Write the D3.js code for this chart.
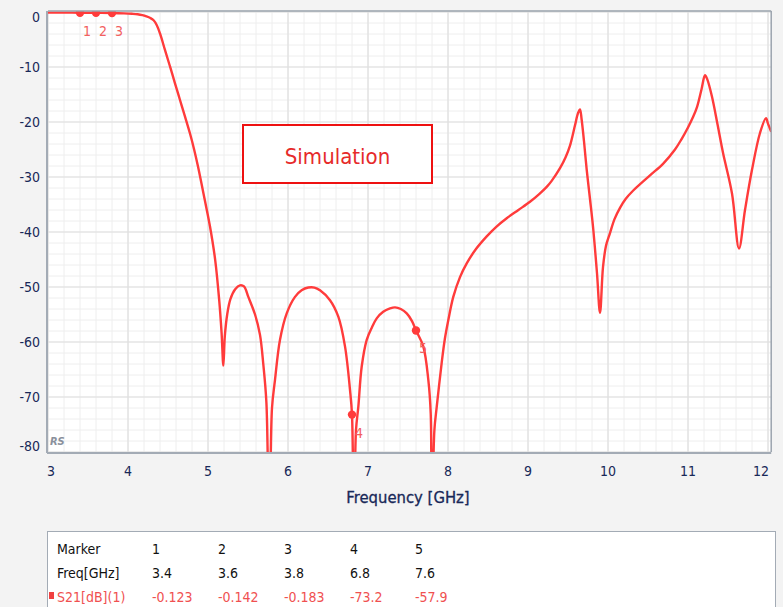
<!DOCTYPE html>
<html>
<head>
<meta charset="utf-8">
<script src="https://cdn.jsdelivr.net/npm/d3@7/dist/d3.min.js"></script>
<style>
  html, body { margin: 0; padding: 0; background: #f3f3f3; }
  svg { display: block; }
  text { font-family: "DejaVu Sans Condensed", "DejaVu Sans", sans-serif; }
</style>
</head>
<body>
<svg id="chart" width="783" height="607"></svg>
<script>
// ---------------- DATA ----------------
const freqGHz = [3.0, 3.2, 3.4, 3.6, 3.8, 3.95, 4.05, 4.12, 4.18, 4.23, 4.28, 4.32, 4.36, 4.40, 4.46,
  4.525, 4.59, 4.65, 4.71, 4.775, 4.825, 4.875, 4.96, 5.025, 5.09, 5.14, 5.17, 5.192, 5.21, 5.24, 5.28,
  5.34, 5.40, 5.45, 5.504, 5.588, 5.65, 5.691, 5.73, 5.766, 5.80, 5.8375, 5.90, 5.984, 6.0875,
  6.17, 6.254, 6.33, 6.40, 6.525, 6.629, 6.7125, 6.775, 6.80, 6.825, 6.85, 6.879, 6.921, 6.984,
  7.05, 7.109, 7.19, 7.275, 7.3375, 7.41, 7.484, 7.55, 7.60, 7.691, 7.754, 7.784, 7.796, 7.83,
  7.859, 7.921, 7.96, 8.004, 8.066, 8.15, 8.234, 8.35, 8.484, 8.60, 8.734, 8.88, 9.025, 9.14, 9.234,
  9.296, 9.40, 9.47, 9.525, 9.5875, 9.625, 9.65, 9.67, 9.70, 9.734, 9.775, 9.8125, 9.8625, 9.90,
  9.9375, 9.975, 10.025, 10.08, 10.15, 10.22, 10.3125, 10.525, 10.6875, 10.8375, 10.92, 11.0, 11.06, 11.1125,
  11.17, 11.2125, 11.24, 11.30, 11.37, 11.4375, 11.55, 11.6375, 11.7125, 11.80, 11.90, 11.975,
  12.0, 12.04];
const s21dB = [-0.11, -0.115, -0.123, -0.142, -0.183, -0.25, -0.33, -0.42, -0.58, -0.8, -1.1, -1.5, -2.4, -3.9, -6.8,
  -9.9, -13.1, -16, -18.9, -22.1, -24.9, -28.1, -34.2, -39, -45.1, -52.4, -58.4, -64.3, -59, -55, -52.2,
  -50.4, -49.7, -49.9, -51.8, -55, -58.7, -64, -71, -95, -72, -66.9, -59.6, -54.8, -51.8,
  -50.6, -50.1, -50.1, -50.6, -52.4, -55.4, -60.8, -68.7, -73.2, -95, -76, -71.8, -64.5, -59.6,
  -57.3, -55.7, -54.5, -53.9, -53.7, -54.0, -54.8, -56.2, -57.9, -60.8, -66.9, -73, -95, -76,
  -71.8, -63.8, -59.5, -56, -51.8, -48.2, -45.7, -43.1, -40.8, -39.1, -37.5, -36, -34.5, -33.1, -31.8,
  -30.7, -28.4, -26.4, -24.3, -20.6, -18.4, -17.7, -19.5, -23.5, -28.7, -34, -39, -47.5, -54.7,
  -46.4, -42.5, -40.2, -37.7, -35.6, -34.0, -32.5, -29.7, -27.6, -25.0, -23.1, -21.0, -19.2, -17.3,
  -14.0, -11.5, -12.2, -15.4, -20.5, -25.6, -33, -43, -36, -28.7, -22, -19.3,
  -20.3, -21.8];

const markerIds  = ["1", "2", "3", "4", "5"];
const markerFreq = [3.4, 3.6, 3.8, 6.8, 7.6];
const markerVal  = [-0.123, -0.142, -0.183, -73.2, -57.9];
const markerFreqText = ["3.4", "3.6", "3.8", "6.8", "7.6"];
const markerValText  = ["-0.123", "-0.142", "-0.183", "-73.2", "-57.9"];

const xTicks = [3, 4, 5, 6, 7, 8, 9, 10, 11, 12];
const yTicks = [0, -10, -20, -30, -40, -50, -60, -70, -80];
const xLabel = "Frequency [GHz]";
const traceName = "S21[dB](1)";
const annotation = "Simulation";

// ---------------- LAYOUT ----------------
const svg = d3.select("#chart");
const L = 48, R = 771.2, T = 12, B = 452;
const x = d3.scaleLinear().domain([3, 12.04]).range([L, R]);
const y = d3.scaleLinear().domain([-80, 0]).range([B, T]);

svg.append("rect").attr("width", 783).attr("height", 607).attr("fill", "#f3f3f3");

// plot background
svg.append("rect").attr("x", L).attr("y", T - 1).attr("width", R - L).attr("height", B - T + 1)
  .attr("fill", "#ffffff");

// grid
const minorX = d3.range(3, 12.05, 0.2);
const minorY = d3.range(-80, 0.01, 2);
const grid = svg.append("g");
grid.selectAll(".mx").data(minorX).join("line")
  .attr("x1", d => x(d)).attr("x2", d => x(d)).attr("y1", T).attr("y2", B)
  .attr("stroke", "#eeeeee").attr("stroke-width", 1);
grid.selectAll(".my").data(minorY).join("line")
  .attr("y1", d => y(d)).attr("y2", d => y(d)).attr("x1", L).attr("x2", R)
  .attr("stroke", "#eeeeee").attr("stroke-width", 1);
grid.selectAll(".Mx").data(xTicks).join("line")
  .attr("x1", d => x(d)).attr("x2", d => x(d)).attr("y1", T).attr("y2", B)
  .attr("stroke", "#e0e0e0").attr("stroke-width", 1.2);
grid.selectAll(".My").data(yTicks).join("line")
  .attr("y1", d => y(d)).attr("y2", d => y(d)).attr("x1", L).attr("x2", R)
  .attr("stroke", "#e0e0e0").attr("stroke-width", 1.2);

// clip
svg.append("clipPath").attr("id", "clip").append("rect")
  .attr("x", L).attr("y", T - 1).attr("width", R - L).attr("height", B - T + 1);

// annotation box
const ann = svg.append("g");
ann.append("rect").attr("x", 243).attr("y", 125).attr("width", 189).attr("height", 58)
  .attr("fill", "#ffffff").attr("stroke", "#ee1111").attr("stroke-width", 2);
ann.append("text").attr("x", 337.5).attr("y", 164).attr("text-anchor", "middle")
  .attr("font-family", "'Open Sans', 'Noto Sans', sans-serif")
  .attr("font-size", 22).attr("fill", "#e62a2a").text(annotation);

// RS label
svg.append("text").attr("x", 50).attr("y", 445).attr("font-size", 11)
  .attr("font-style", "italic").attr("font-weight", "bold").attr("fill", "#8a909c").text("RS");

// trace
const pts = freqGHz.map((f, i) => [f, s21dB[i]]);
const line = d3.line().x(d => x(d[0])).y(d => y(d[1])).curve(d3.curveCatmullRom.alpha(0.5));
const plot = svg.append("g").attr("clip-path", "url(#clip)");
plot.append("path").datum(pts).attr("d", line)
  .attr("fill", "none").attr("stroke", "#ff3b3b").attr("stroke-width", 2.4)
  .attr("stroke-linejoin", "round");

// markers
plot.selectAll(".mk").data(markerFreq).join("circle")
  .attr("cx", d => x(d)).attr("cy", (d, i) => y(markerVal[i])).attr("r", 4.2)
  .attr("fill", "#ff3b3b");
svg.selectAll(".mkl").data(markerIds).join("text")
  .attr("x", (d, i) => x(markerFreq[i]) + 3).attr("y", (d, i) => y(markerVal[i]) + 23)
  .attr("font-size", 14).attr("fill", "#f26060").text(d => d);

// plot border
svg.append("line").attr("x1", L).attr("x2", R).attr("y1", T - 1).attr("y2", T - 1)
  .attr("stroke", "#9aa3ad").attr("stroke-width", 1.5);
svg.append("line").attr("x1", R).attr("x2", R).attr("y1", T - 1).attr("y2", B)
  .attr("stroke", "#9aa3ad").attr("stroke-width", 1.5);
svg.append("line").attr("x1", L - 1).attr("x2", L - 1).attr("y1", T - 1).attr("y2", B + 1)
  .attr("stroke", "#a3abb5").attr("stroke-width", 2);
svg.append("line").attr("x1", L - 1).attr("x2", R).attr("y1", B + 1).attr("y2", B + 1)
  .attr("stroke", "#a3abb5").attr("stroke-width", 2);

// axes labels
const axisColor = "#182858";
svg.selectAll(".xt").data(xTicks).join("text")
  .attr("x", (d, i) => i === 0 ? x(d) - 1 : (i === xTicks.length - 1 ? x(d) + 1 : x(d)))
  .attr("y", 476)
  .attr("text-anchor", (d, i) => i === 0 ? "start" : (i === xTicks.length - 1 ? "end" : "middle"))
  .attr("font-size", 14).attr("fill", axisColor).text(d => d);
svg.selectAll(".yt").data(yTicks).join("text")
  .attr("x", 40)
  .attr("y", (d, i) => y(d) + 5 + (i === 0 ? 5 : 0) + (i === yTicks.length - 1 ? -6 : 0))
  .attr("text-anchor", "end")
  .attr("font-size", 14).attr("fill", axisColor).text(d => d);
svg.append("text").attr("x", 408).attr("y", 503).attr("text-anchor", "middle")
  .attr("font-size", 16.5).attr("fill", axisColor).attr("stroke", axisColor).attr("stroke-width", 0.3)
  .text(xLabel);

// marker table
const tb = svg.append("g");
tb.append("rect").attr("x", 47.5).attr("y", 531.5).attr("width", 728).attr("height", 90)
  .attr("fill", "#ffffff").attr("stroke", "#a3abb5").attr("stroke-width", 1);
const colX = [152, 218, 284, 350, 415];
tb.append("text").attr("x", 57).attr("y", 554).attr("font-size", 14).attr("fill", "#111").text("Marker");
tb.append("text").attr("x", 57).attr("y", 578).attr("font-size", 14).attr("fill", "#111").text("Freq[GHz]");
tb.append("rect").attr("x", 49).attr("y", 592).attr("width", 5).attr("height", 7).attr("fill", "#f04040");
tb.append("text").attr("x", 57).attr("y", 602).attr("font-size", 14).attr("fill", "#f05050").text(traceName);
tb.selectAll(".c1").data(markerIds).join("text")
  .attr("x", (d, i) => colX[i]).attr("y", 554).attr("font-size", 14).attr("fill", "#111").text(d => d);
tb.selectAll(".c2").data(markerFreqText).join("text")
  .attr("x", (d, i) => colX[i]).attr("y", 578).attr("font-size", 14).attr("fill", "#111").text(d => d);
tb.selectAll(".c3").data(markerValText).join("text")
  .attr("x", (d, i) => colX[i]).attr("y", 602).attr("font-size", 14).attr("fill", "#f05050").text(d => d);
</script>
</body>
</html>
